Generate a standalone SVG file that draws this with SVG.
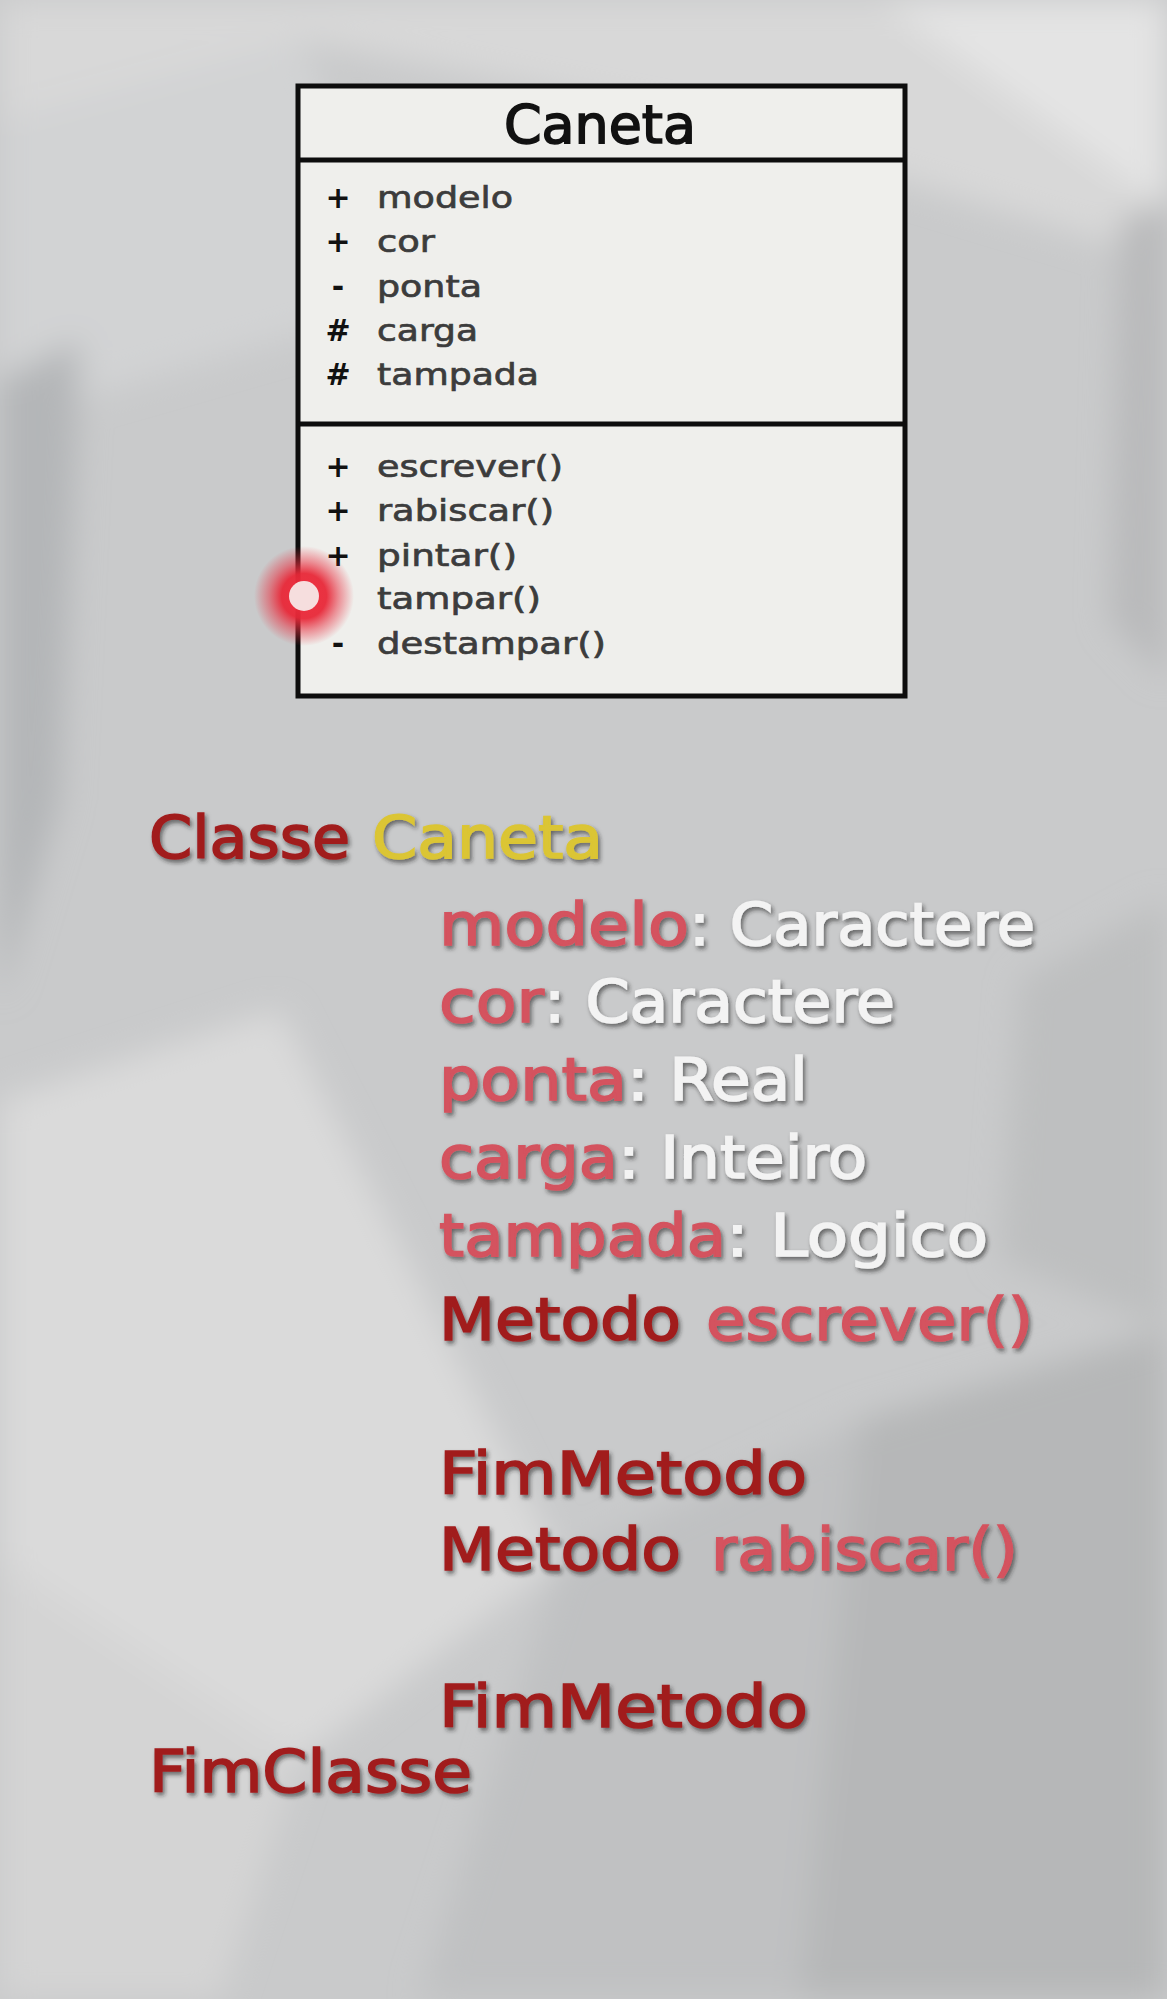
<svg xmlns="http://www.w3.org/2000/svg" width="1167" height="1999" viewBox="0 0 1167 1999">
<defs>
<style>
.uml{font-family:"DejaVu Sans","Liberation Sans",sans-serif;}
.title{font-size:53px;fill:#111;stroke:#111;stroke-width:1.6px;}
.sign{font-size:30px;fill:#111;font-weight:bold;text-anchor:middle;}
.name{font-size:31px;fill:#3c3c3c;stroke:#3c3c3c;stroke-width:0.7px;}
.code{font-family:"DejaVu Sans","Liberation Sans",sans-serif;font-size:59px;filter:url(#shadow);stroke-width:1.6px;}
.kw{fill:#a11c1e;stroke:#a11c1e;}
.cls{fill:#dbc534;stroke:#dbc534;}
.attr{fill:#d4525e;stroke:#d4525e;}
.type{fill:#f3f3f3;stroke:#f3f3f3;}
.box{fill:#efefec;stroke:#0d0d0d;stroke-width:5;}
.div{stroke:#0d0d0d;stroke-width:5;}
</style>
<filter id="shadow" x="-10%" y="-30%" width="120%" height="160%">
<feGaussianBlur in="SourceAlpha" stdDeviation="2.2"/>
<feOffset dx="2" dy="3" result="b"/>
<feFlood flood-color="#222" flood-opacity="0.6"/>
<feComposite in2="b" operator="in"/>
<feMerge><feMergeNode/><feMergeNode in="SourceGraphic"/></feMerge>
</filter>
<filter id="soft" x="-20%" y="-20%" width="140%" height="140%">
<feGaussianBlur stdDeviation="16"/>
</filter>
<radialGradient id="glow">
<stop offset="0" stop-color="#f03040" stop-opacity="1"/>
<stop offset="0.45" stop-color="#e82838" stop-opacity="0.95"/>
<stop offset="0.7" stop-color="#e83040" stop-opacity="0.5"/>
<stop offset="1" stop-color="#e83040" stop-opacity="0"/>
</radialGradient>
</defs>

<g id="background">
<rect x="0" y="0" width="1167" height="1999" fill="#c9cacb"/>
<g filter="url(#soft)">
<polygon points="0,0 1167,0 1167,260 700,120 300,40 0,120" fill="#d8d8d8"/>
<polygon points="880,0 1167,0 1167,210" fill="#e4e4e4"/>
<polygon points="0,120 300,40 420,300 0,420" fill="#d2d3d4"/>
<polygon points="0,380 80,340 60,800 0,1000" fill="#b4b6b8"/>
<polygon points="1120,220 1167,200 1167,680 1110,620" fill="#b9babb"/>
<polygon points="0,1100 280,1010 560,1560 300,1760 0,1560" fill="#dadada"/>
<polygon points="0,1560 300,1760 220,1999 0,1999" fill="#d4d4d4"/>
<polygon points="860,1420 1167,1330 1167,1999 800,1999" fill="#b6b7b8"/>
<polygon points="560,1560 860,1420 800,1999 420,1999" fill="#c0c1c2"/>
<polygon points="1020,980 1167,900 1167,1330 1000,1260" fill="#bebfc0"/>
</g>
</g>

<g id="connectors"></g>

<g id="class-caneta" class="uml">
<rect class="box" x="298" y="86" width="607" height="610"/>
<line class="div" x1="298" y1="160" x2="905" y2="160"/>
<line class="div" x1="298" y1="424" x2="905" y2="424"/>
<text class="title" x="600" y="143" text-anchor="middle" textLength="192" lengthAdjust="spacingAndGlyphs">Caneta</text>
<text class="sign" x="338" y="208">+</text>
<text class="name" x="377" y="208" textLength="136" lengthAdjust="spacingAndGlyphs">modelo</text>
<text class="sign" x="338" y="252">+</text>
<text class="name" x="377" y="252" textLength="58" lengthAdjust="spacingAndGlyphs">cor</text>
<text class="sign" x="338" y="297">-</text>
<text class="name" x="377" y="297" textLength="105" lengthAdjust="spacingAndGlyphs">ponta</text>
<text class="sign" x="338" y="341">#</text>
<text class="name" x="377" y="341" textLength="101" lengthAdjust="spacingAndGlyphs">carga</text>
<text class="sign" x="338" y="385">#</text>
<text class="name" x="377" y="385" textLength="162" lengthAdjust="spacingAndGlyphs">tampada</text>
<text class="sign" x="338" y="477">+</text>
<text class="name" x="377" y="477" textLength="186" lengthAdjust="spacingAndGlyphs">escrever()</text>
<text class="sign" x="338" y="521">+</text>
<text class="name" x="377" y="521" textLength="177" lengthAdjust="spacingAndGlyphs">rabiscar()</text>
<text class="sign" x="338" y="566">+</text>
<text class="name" x="377" y="566" textLength="140" lengthAdjust="spacingAndGlyphs">pintar()</text>
<text class="name" x="377" y="609" textLength="164" lengthAdjust="spacingAndGlyphs">tampar()</text>
<text class="sign" x="338" y="654">-</text>
<text class="name" x="377" y="654" textLength="229" lengthAdjust="spacingAndGlyphs">destampar()</text>
</g>

<g id="pointer">
<circle cx="304" cy="596" r="50" fill="url(#glow)"/>
<circle cx="304" cy="596" r="15" fill="#f6dede"/>
</g>

<g id="pseudocode" class="code">
<text class="kw" x="149" y="858" textLength="201" lengthAdjust="spacingAndGlyphs">Classe</text>
<text class="cls" x="372" y="858" textLength="231" lengthAdjust="spacingAndGlyphs">Caneta</text>
<text class="attr" x="439" y="945" textLength="250" lengthAdjust="spacingAndGlyphs">modelo</text>
<text class="type" x="689" y="945" textLength="346" lengthAdjust="spacingAndGlyphs">: Caractere</text>
<text class="attr" x="439" y="1022" textLength="105" lengthAdjust="spacingAndGlyphs">cor</text>
<text class="type" x="544" y="1022" textLength="351" lengthAdjust="spacingAndGlyphs">: Caractere</text>
<text class="attr" x="439" y="1100" textLength="188" lengthAdjust="spacingAndGlyphs">ponta</text>
<text class="type" x="627" y="1100" textLength="181" lengthAdjust="spacingAndGlyphs">: Real</text>
<text class="attr" x="439" y="1178" textLength="179" lengthAdjust="spacingAndGlyphs">carga</text>
<text class="type" x="618" y="1178" textLength="249" lengthAdjust="spacingAndGlyphs">: Inteiro</text>
<text class="attr" x="439" y="1256" textLength="287" lengthAdjust="spacingAndGlyphs">tampada</text>
<text class="type" x="726" y="1256" textLength="262" lengthAdjust="spacingAndGlyphs">: Logico</text>
<text class="kw" x="439" y="1340" textLength="242" lengthAdjust="spacingAndGlyphs">Metodo</text>
<text class="attr" x="706" y="1340" textLength="327" lengthAdjust="spacingAndGlyphs">escrever()</text>
<text class="kw" x="439" y="1494" textLength="368" lengthAdjust="spacingAndGlyphs">FimMetodo</text>
<text class="kw" x="439" y="1570" textLength="242" lengthAdjust="spacingAndGlyphs">Metodo</text>
<text class="attr" x="711" y="1570" textLength="307" lengthAdjust="spacingAndGlyphs">rabiscar()</text>
<text class="kw" x="439" y="1727" textLength="369" lengthAdjust="spacingAndGlyphs">FimMetodo</text>
<text class="kw" x="149" y="1792" textLength="323" lengthAdjust="spacingAndGlyphs">FimClasse</text>
</g>
</svg>
